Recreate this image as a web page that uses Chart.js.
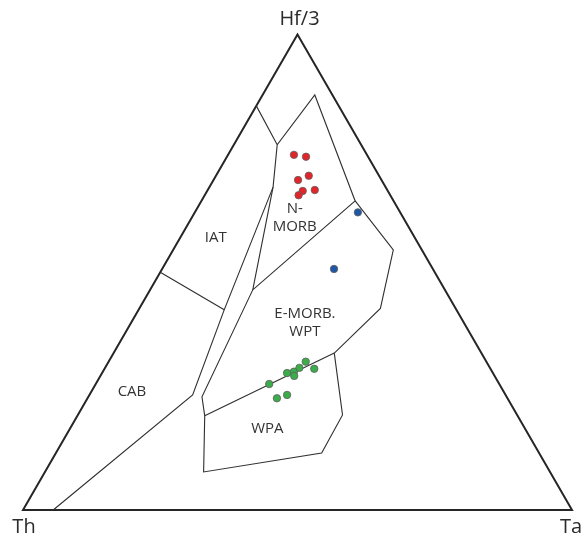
<!DOCTYPE html>
<html>
<head>
<meta charset="utf-8">
<title>Hf/3 - Th - Ta</title>
<script src="https://cdn.jsdelivr.net/npm/chart.js@4.4.0/dist/chart.umd.min.js"></script>
<style>
    html, body { margin: 0; padding: 0; background: #fff; }
    #wrap { width: 586px; height: 538px; }
</style>
</head>
<body>
<div id="wrap"><canvas id="ternary" width="586" height="538"></canvas></div>
<script>
// All compositions are [Hf/3, Th, Ta] in percent

const apexNames = ['Hf/3', 'Th', 'Ta'];

const redSamples = [
    [74.7, 13.3, 12.0], [74.3, 11.3, 14.4], [69.4, 15.2, 15.4], [70.3, 12.8, 16.9],
    [67.1, 15.5, 17.4], [66.2, 16.7, 17.1], [67.3, 13.2, 19.5]
];

const blueSamples = [
    [62.6, 7.7, 29.7], [50.7, 18.0, 31.3]
];

const greenSamples = [
    [26.5, 41.9, 31.6], [28.8, 37.5, 33.7], [29.1, 36.1, 34.8], [28.2, 36.5, 35.3],
    [29.9, 34.7, 35.4], [31.2, 32.9, 35.9], [29.7, 32.1, 38.2], [23.5, 42.0, 34.5],
    [24.2, 39.8, 36.0]
];

// triangle outline (extra vertex so every corner gets a joined stroke)
const triangleOutline = [[100, 0, 0], [0, 100, 0], [0, 0, 100], [100, 0, 0], [0, 100, 0]];

// field boundaries
const nMorbBoundary = [[85, 15, 0], [76.8, 15.3, 7.9], [87.3, 3.2, 9.5], [65, 7, 28],
    [46.3, 35, 18.7], [67.9, 20.5, 11.6], [76.8, 15.3, 7.9]];
const iatCabBoundary = [[67.9, 20.5, 11.6], [42.1, 42.3, 15.6], [24.2, 57, 18.8], [0, 94.5, 5.5]];
const iatCabDivide = [[50, 50, 0], [42.1, 42.3, 15.6]];
const eMorbBoundary = [[46.3, 35, 18.7], [23.8, 55.5, 20.7], [19.8, 57, 23.2], [8, 63.1, 28.9],
    [12, 39.6, 48.4], [20, 31.8, 48.2], [33, 26.8, 40.2], [42.4, 13.7, 43.9],
    [54.7, 5.2, 40.1], [65, 7, 28]];
const wpaTop = [[19.8, 57, 23.2], [33, 26.8, 40.2]];

const fieldNames = [['N-', 'MORB'], ['IAT'], ['E-MORB.', 'WPT'], ['CAB'], ['WPA']];
const fieldCentres = [[61.4, 19.8, 18.8], [57.2, 36.3, 6.5], [39.3, 29.0, 31.7], [24.9, 67.7, 7.4], [17.0, 47.0, 36.0]];

// ternary -> cartesian, Th at origin, Ta at (100, 0)
function toXY(comp) {
    const sum = comp[0] + comp[1] + comp[2];
    const a = comp[0] / sum * 100;
    const c = comp[2] / sum * 100;
    return { x: c + a / 2, y: a * Math.sqrt(3) / 2 };
}

const lineStyle = {
    showLine: true,
    pointRadius: 0,
    borderColor: '#2f2f2f',
    borderWidth: 1.1,
    fill: false,
    order: 2
};

function boundary(points) {
    return { ...lineStyle, data: points.map(toXY) };
}

function samples(points, colour) {
    return {
        data: points.map(toXY),
        pointRadius: 3.7,
        pointBackgroundColor: colour,
        pointBorderColor: '#5e5e5e',
        pointBorderWidth: 0.8,
        showLine: false,
        order: 0
    };
}

// pixel layout: Th corner at (23, 510), side length 549 px
const origin = { x: 23, y: 510 };
const unit = 5.49;

const textPlugin = {
    id: 'ternaryText',
    afterDatasetsDraw(chart) {
        const ctx = chart.ctx;
        const sx = chart.scales.x, sy = chart.scales.y;
        const px = p => ({ x: sx.getPixelForValue(p.x), y: sy.getPixelForValue(p.y) });

        ctx.save();
        ctx.fillStyle = '#2b2b2b';
        ctx.textAlign = 'center';
        ctx.textBaseline = 'middle';

        // corner names
        ctx.font = '20px "Open Sans"';
        const corners = [[100, 0, 0], [0, 100, 0], [0, 0, 100]];
        const offsets = [[2, -15], [1, 17], [-1, 17]];
        corners.forEach((c, i) => {
            const p = px(toXY(c));
            ctx.fillText(apexNames[i], p.x + offsets[i][0], p.y + offsets[i][1]);
        });

        // field names
        ctx.font = '15px "Open Sans"';
        ctx.fillStyle = '#333';
        fieldNames.forEach((lines, i) => {
            const p = px(toXY(fieldCentres[i]));
            const lh = 18;
            lines.forEach((t, k) => {
                ctx.fillText(t, p.x, p.y + (k - (lines.length - 1) / 2) * lh);
            });
        });
        ctx.restore();
    }
};

new Chart(document.getElementById('ternary'), {
    type: 'scatter',
    data: {
        datasets: [
            samples(redSamples, '#e3252b'),
            samples(blueSamples, '#1d58a6'),
            samples(greenSamples, '#3bad4a'),
            boundary(nMorbBoundary),
            boundary(iatCabBoundary),
            boundary(iatCabDivide),
            boundary(eMorbBoundary),
            boundary(wpaTop),
            { ...lineStyle, data: triangleOutline.map(toXY), borderWidth: 2, borderColor: '#262626', borderJoinStyle: 'miter' }
        ]
    },
    options: {
        responsive: false,
        animation: false,
        layout: { padding: 0, autoPadding: false },
        plugins: {
            legend: { display: false },
            tooltip: { enabled: false }
        },
        scales: {
            x: {
                type: 'linear',
                display: false,
                min: -origin.x / unit,
                max: (586 - origin.x) / unit
            },
            y: {
                type: 'linear',
                display: false,
                min: -(538 - origin.y) / unit,
                max: origin.y / unit
            }
        }
    },
    plugins: [textPlugin]
});
</script>
</body>
</html>
